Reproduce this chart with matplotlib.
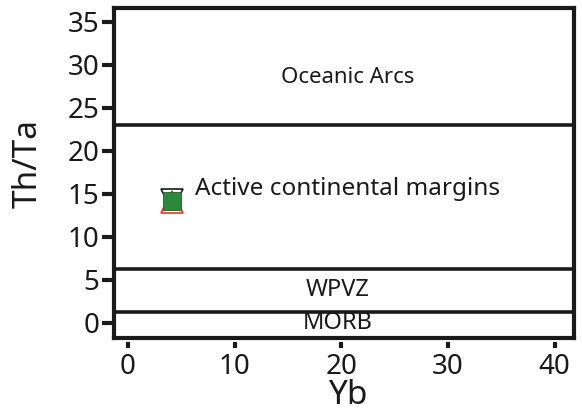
import matplotlib
matplotlib.use("Agg")
import matplotlib.pyplot as plt

plt.rcParams['font.family'] = ['Noto Sans', 'DejaVu Sans']

# sample point (Yb, Th/Ta)
black_x, black_y = [4.1], [14.3]
red_x, red_y = [4.1], [14.0]
green_x, green_y = [4.1], [14.2]

# field boundaries in Th/Ta
boundaries = [23.0, 6.2, 1.3]

# field names and label anchors
fields = ["Oceanic Arcs", "Active continental margins", "WPVZ", "MORB"]
field_x = [20.6, 6.3, 19.7, 19.7]
field_y = [28.5, 15.5, 3.8, 0.0]

x_ticks = [0, 10, 20, 30, 40]
y_ticks = [0, 5, 10, 15, 20, 25, 30, 35]

fig = plt.figure(figsize=(5.82, 4.11), dpi=100)
ax = fig.add_axes([0.196, 0.178, 0.790, 0.803])

for yb in boundaries:
    ax.axhline(yb, color='#1a1a1a', lw=2.6, zorder=1)

ax.plot(black_x, black_y, 'v', ms=16.5, mfc='white', mec='#1a1a1a', mew=1.2, zorder=3)
ax.plot(red_x, red_y, '^', ms=16.5, mfc='white', mec='#ff2a1a', mew=1.2, zorder=3)
ax.plot(green_x, green_y, 's', ms=13, mfc='#2a8a3c', mec='#1f5f2a', mew=0.6, zorder=4)

ax.text(field_x[0], field_y[0], fields[0], fontsize=16, ha='center', va='center', color='#1a1a1a')
ax.text(field_x[1], field_y[1], fields[1], fontsize=17.5, ha='left', va='center', color='#1a1a1a')
ax.text(field_x[2], field_y[2], fields[2], fontsize=17, ha='center', va='center', color='#1a1a1a')
ax.text(field_x[3], field_y[3], fields[3], fontsize=17, ha='center', va='center', color='#1a1a1a')

ax.set_xlim(-1.3, 41.8)
ax.set_ylim(-1.75, 36.6)

for sp in ax.spines.values():
    sp.set_linewidth(3)
    sp.set_color('#1a1a1a')

ax.set_yticks(y_ticks)
ax.tick_params(axis='y', direction='out', length=8.5, width=3, pad=2,
               labelsize=20, color='#1a1a1a', labelcolor='#1a1a1a')
ax.set_xticks([])
ax.set_ylabel("Th/Ta", fontsize=24, color='#1a1a1a')
ax.yaxis.set_label_coords(-0.151, 0.527)
ax.set_xlabel("Yb", fontsize=24, color='#1a1a1a', va='top')
ax.xaxis.set_label_coords(0.508, -0.125)

# detached x ticks sitting just below the frame
sec = ax.secondary_xaxis(-0.012)
sec.spines['bottom'].set_visible(False)
sec.set_xticks(x_ticks)
sec.tick_params(axis='x', direction='out', length=4, width=3, pad=4,
                labelsize=20, color='#1a1a1a', labelcolor='#1a1a1a')

fig.savefig("out.png", dpi=100)
